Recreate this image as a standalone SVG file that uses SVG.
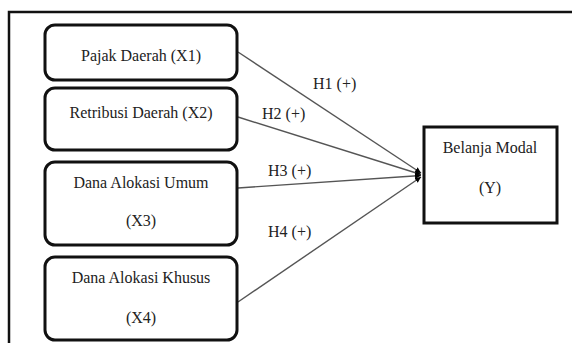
<svg xmlns="http://www.w3.org/2000/svg" width="572" height="343" viewBox="0 0 572 343">
  <style>
    .t { font-family: "Liberation Serif", "DejaVu Serif", serif; font-size: 16px; fill: #222; }
    .box { fill: #fff; stroke: #111; stroke-width: 3; }
    .edge { stroke: #555; stroke-width: 1.4; fill: none; marker-end: url(#arr); }
  </style>
  <defs>
    <marker id="arr" markerWidth="7" markerHeight="7" refX="6" refY="3.5" orient="auto" markerUnits="userSpaceOnUse">
      <path d="M0,0.5 L6,3.5 L0,6.5 Z" fill="#000"/>
    </marker>
  </defs>
  <rect width="572" height="343" fill="#fff"/>
  <rect id="frame" x="9" y="12" width="600" height="400" fill="none" stroke="#111" stroke-width="2.5"/>

  <g id="connectors">
    <line class="edge" x1="238" y1="52" x2="421" y2="173"/>
    <line class="edge" x1="238" y1="117" x2="421" y2="174.5"/>
    <line class="edge" x1="238" y1="188" x2="421" y2="175.5"/>
    <line class="edge" x1="238" y1="302" x2="421" y2="177"/>
    <text class="t" x="313" y="89">H1 (+)</text>
    <text class="t" x="262" y="119">H2 (+)</text>
    <text class="t" x="268" y="176">H3 (+)</text>
    <text class="t" x="268" y="237">H4 (+)</text>
  </g>

  <g id="x1">
    <rect class="box" x="45" y="25" width="192" height="55" rx="10"/>
    <text class="t" x="141" y="61" text-anchor="middle">Pajak Daerah (X1)</text>
  </g>
  <g id="x2">
    <rect class="box" x="45" y="88" width="192" height="62" rx="10"/>
    <text class="t" x="141" y="118" text-anchor="middle">Retribusi Daerah (X2)</text>
  </g>
  <g id="x3">
    <rect class="box" x="45" y="162" width="192" height="83" rx="10"/>
    <text class="t" x="141" y="188" text-anchor="middle">Dana Alokasi Umum</text>
    <text class="t" x="141" y="226" text-anchor="middle">(X3)</text>
  </g>
  <g id="x4">
    <rect class="box" x="45" y="257" width="192" height="83" rx="10"/>
    <text class="t" x="141" y="283" text-anchor="middle">Dana Alokasi Khusus</text>
    <text class="t" x="141" y="323" text-anchor="middle">(X4)</text>
  </g>
  <g id="y">
    <rect class="box" x="424" y="127" width="133" height="96"/>
    <text class="t" x="490" y="153" text-anchor="middle">Belanja Modal</text>
    <text class="t" x="490" y="193" text-anchor="middle">(Y)</text>
  </g>
</svg>
